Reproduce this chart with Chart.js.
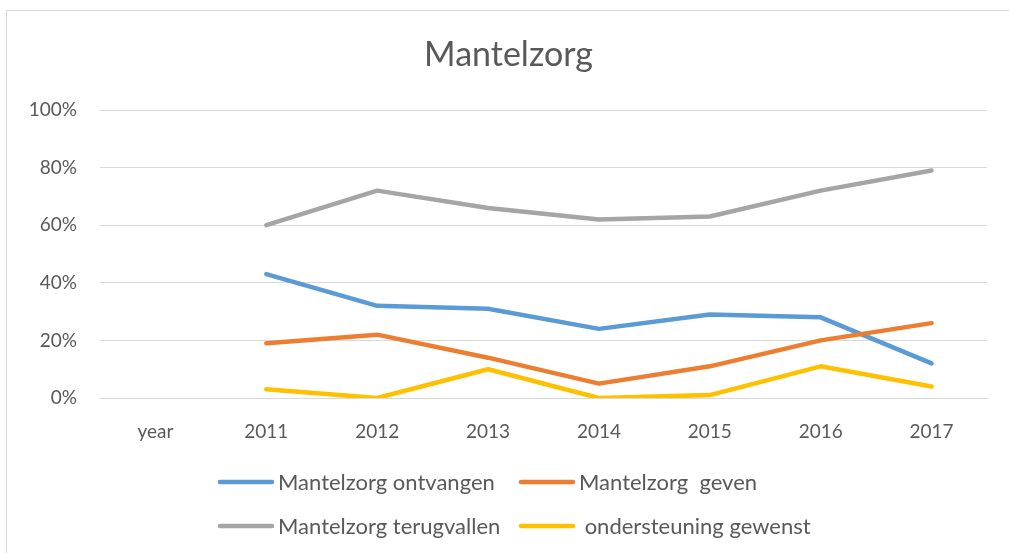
<!DOCTYPE html>
<html>
<head>
<meta charset="utf-8">
<script src="https://cdn.jsdelivr.net/npm/chart.js@4"></script>
<style>
  html, body { margin: 0; padding: 0; background: #fff; overflow: hidden; }
  .frame {
    position: absolute; left: 6px; top: 10px;
    width: 1030px; height: 580px;
    border: 1px solid #d9d9d9;
  }
  #chart { position: absolute; left: 0; top: 0; }
</style>
</head>
<body>
<div class="frame"></div>
<canvas id="chart" width="1009" height="553"></canvas>
<script>
// Categories and series (percent)
const years = ['year', '2011', '2012', '2013', '2014', '2015', '2016', '2017'];
const ontvangen = [null, 43, 32, 31, 24, 29, 28, 12];
const geven = [null, 19, 22, 14, 5, 11, 20, 26];
const terugvallen = [null, 60, 72, 66, 62, 63, 72, 79];
const gewenst = [null, 3, 0, 10, 0, 1, 11, 4];

const seriesNames = ['Mantelzorg ontvangen', 'Mantelzorg  geven', 'Mantelzorg terugvallen', ' ondersteuning gewenst'];
const seriesColors = ['#5b9bd5', '#ed7d31', '#a5a5a5', '#ffc000'];

const TEXT = '#595959';
const GRID = '#d9d9d9';
const FONT = 'Lato';

function makeDataset(i, values) {
    return {
        label: seriesNames[i],
        data: values,
        borderColor: seriesColors[i],
        backgroundColor: seriesColors[i],
        borderWidth: 4.5,
        borderCapStyle: 'round',
        borderJoinStyle: 'round',
        pointRadius: 0,
        tension: 0,
        // later series drawn on top
        order: 4 - i
    };
}

// Two-column legend under the axis, lines with the label right after
const bottomLegend = {
    id: 'bottomLegend',
    afterDraw(chart) {
        const ctx = chart.ctx;
        const left = 218, colWidth = 301, lineLen = 56;
        const rowY = [482, 526];
        ctx.save();
        ctx.font = '22px ' + FONT;
        ctx.textBaseline = 'middle';
        ctx.fillStyle = TEXT;
        ctx.lineCap = 'round';
        ctx.lineWidth = 4.5;
        chart.data.datasets.forEach((ds, i) => {
            const x = left + (i % 2) * colWidth;
            const y = rowY[Math.floor(i / 2)];
            ctx.strokeStyle = ds.borderColor;
            ctx.beginPath();
            ctx.moveTo(x + 2, y);
            ctx.lineTo(x + lineLen - 2, y);
            ctx.stroke();
            ctx.fillText(ds.label, x + lineLen + 4, y + 1);
        });
        ctx.restore();
    }
};

new Chart(document.getElementById('chart'), {
    type: 'line',
    data: {
        labels: years,
        datasets: [
            makeDataset(0, ontvangen),
            makeDataset(1, geven),
            makeDataset(2, terugvallen),
            makeDataset(3, gewenst)
        ]
    },
    plugins: [bottomLegend],
    options: {
        responsive: false,
        animation: false,
        layout: { padding: { top: 10, right: 22, bottom: 0, left: 30 } },
        plugins: {
            legend: { display: false },
            tooltip: { enabled: false },
            title: {
                display: true,
                text: 'Mantelzorg',
                color: TEXT,
                font: { family: FONT, size: 34, weight: 'normal', lineHeight: 1.2 },
                padding: { top: 25, bottom: 34.2 }
            }
        },
        scales: {
            x: {
                offset: true,
                grid: { display: false },
                border: { display: true, color: GRID, width: 1 },
                ticks: {
                    color: TEXT,
                    font: { family: FONT, size: 19 },
                    padding: 14,
                    maxRotation: 0
                },
                afterFit(scale) { scale.height = 155; }
            },
            y: {
                min: 0,
                max: 100,
                grid: { color: GRID, lineWidth: 1, drawTicks: false },
                border: { display: false },
                ticks: {
                    stepSize: 20,
                    color: TEXT,
                    font: { family: FONT, size: 19 },
                    padding: 23,
                    callback: v => v + '%'
                },
                afterFit(scale) { scale.width = 70; }
            }
        }
    }
});
</script>
</body>
</html>
